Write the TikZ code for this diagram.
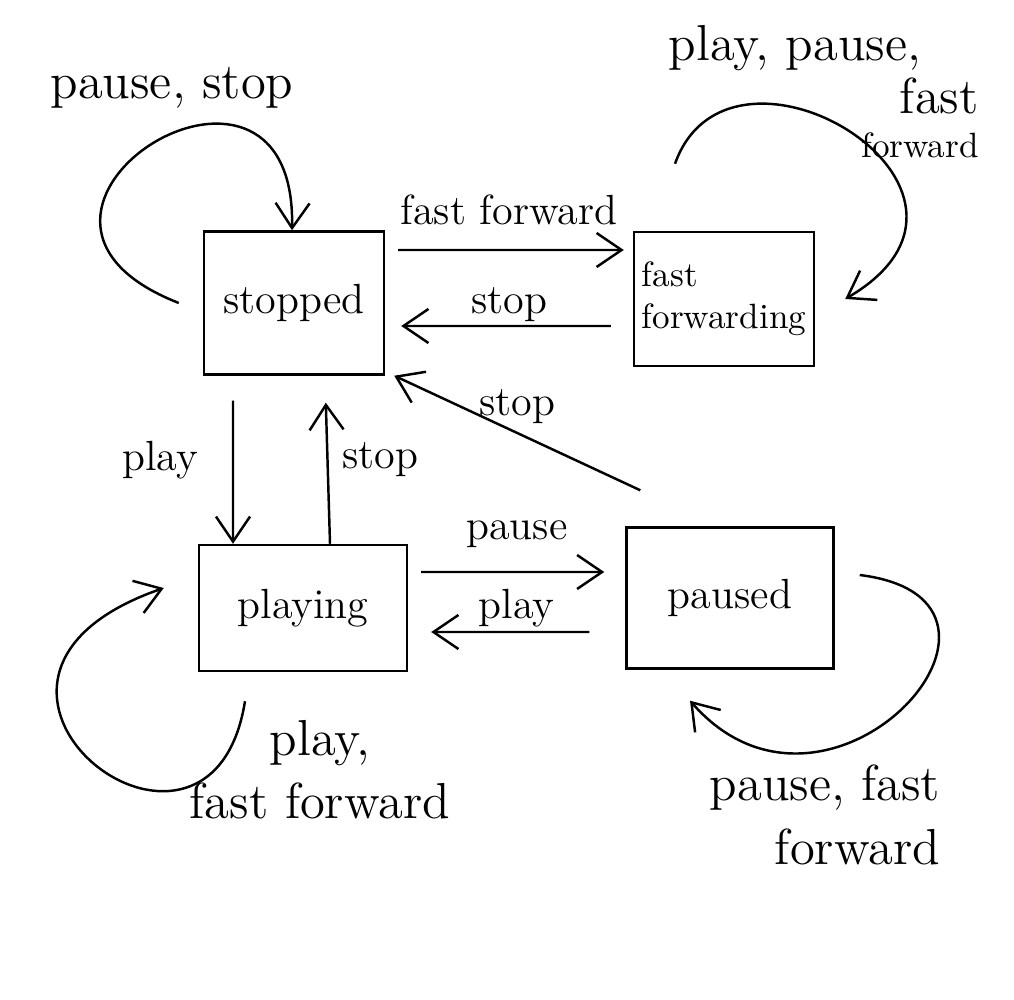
\documentclass[tikz,border=0pt]{standalone}
\usetikzlibrary{arrows.meta}
\begin{document}
\begin{tikzpicture}[
  state/.style={draw, line width=0.7pt, font=\large, inner sep=2pt},
  edge/.style={line width=0.7pt, -{Straight Barb[length=2.5mm,width=3.4mm]}},
  lbl/.style={font=\large, inner sep=1pt},
  looplbl/.style={font=\Large, inner sep=1pt}
]
  % Canvas (keeps the empty margin at the bottom)
  \useasboundingbox (0,0) rectangle (10.14,-10);
  % States
  \node[state, minimum width=1.80cm, minimum height=1.43cm] (stopped) at (2.94,-3.03) {stopped};
  \node[state, minimum width=1.80cm, minimum height=1.34cm, align=left, font=\normalsize] (ffwd) at (7.24,-2.99) {fast\\forwarding};
  \node[state, minimum width=2.08cm, minimum height=1.26cm] (playing) at (3.03,-6.08) {playing};
  \node[state, minimum width=2.07cm, minimum height=1.41cm] (paused) at (7.30,-5.98) {paused};
  % stopped <-> fast forwarding
  \draw[edge, shorten <=1.3mm, shorten >=0.9mm] ([yshift=5.3mm]stopped.east) -- ([yshift=4.9mm]ffwd.west)
    node[lbl, midway, above=2mm] (lFF) {fast forward};
  \draw[edge, shorten <=2.2mm, shorten >=1.6mm] ([yshift=-2.7mm]ffwd.west) -- ([yshift=-2.3mm]stopped.east)
    node[lbl, midway, above=0pt] (lStopA) {stop};
  % paused -> stopped
  \draw[edge] ([xshift=1.5mm,yshift=3.6mm]paused.north west) -- ([xshift=0.9mm]stopped.south east)
    node[lbl, midway, above=0.5mm] (lStopB) {stop};
  % stopped <-> playing
  \draw[edge, shorten <=2.5mm] ([xshift=-6.1mm]stopped.south) -- ([xshift=-7mm]playing.north)
    node[lbl, midway, left=3mm] (lPlayA) {play};
  \draw[edge, shorten >=2.7mm] ([xshift=2.7mm]playing.north) -- ([xshift=3.1mm]stopped.south)
    node[lbl, midway, right=1mm] (lStopC) {stop};
  % playing <-> paused
  \draw[edge, shorten <=1.3mm, shorten >=2.1mm] ([yshift=3.6mm]playing.east) -- ([yshift=2.6mm]paused.west)
    node[lbl, midway, above=2mm] (lPause) {pause};
  \draw[edge, shorten <=3.6mm, shorten >=2.3mm] ([yshift=-3.4mm]paused.west) -- ([yshift=-2.4mm]playing.east)
    node[lbl, midway, above=0pt] (lPlayB) {play};
  % Self loops
  \draw[edge] ([xshift=-2.4mm]stopped.west) .. controls +(-2.3,0.9) and +(0.05,2.35) .. ([xshift=-0.2mm]stopped.north);
  \node[looplbl] (lLoopStop) at (1.72,-0.88) {pause, stop};
  \draw[edge] ([xshift=-4.9mm,yshift=6.7mm]ffwd.north) .. controls +(0.55,1.55) and +(1.86,1.09) .. ([xshift=3mm]ffwd.east);
  \node[looplbl] (lLoopFFa) at (7.95,-0.48) {play, pause,};
  \node[looplbl, align=right] (lLoopFFb) at (9.2,-1.18) {fast\\[-2mm]{\normalsize forward}};
  \draw[edge] ([xshift=-5.8mm,yshift=-2.9mm]playing.south) .. controls +(-0.35,-2.2) and +(-2.65,-0.92) .. ([xshift=-3.4mm,yshift=2mm]playing.west);
  \node[looplbl, align=center] (lLoopPlay) at (3.2,-7.7) {play,\\fast forward};
  \draw[edge] ([xshift=2.5mm,yshift=2.3mm]paused.east) .. controls +(2.02,-0.25) and +(1.4,-1.6) .. ([xshift=-4mm,yshift=-3.1mm]paused.south);
  \node[looplbl, align=right] (lLoopPaused) at (8.25,-8.15) {pause, fast\\forward};
\end{tikzpicture}
\end{document}
